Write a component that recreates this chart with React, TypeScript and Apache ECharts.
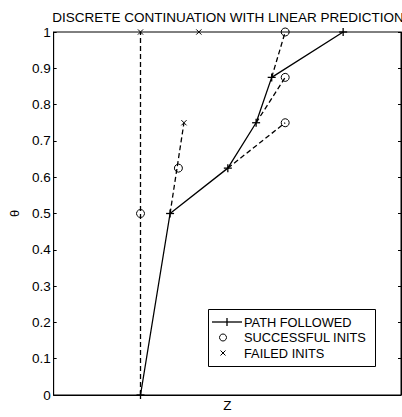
import React, { useEffect, useRef } from "react";
import * as echarts from "echarts";

const FONT = '"Liberation Sans", Arial, Helvetica, sans-serif';

const titleText = "DISCRETE CONTINUATION WITH LINEAR PREDICTION";
const xName = "Z";
const yName = "θ";

// Path followed (solid line with + markers)
const pathZ = [0.875, 1.173, 1.755, 2.04, 2.197, 2.917];
const pathTheta = [0, 0.5, 0.625, 0.75, 0.875, 1];

// Successful initialisations (open circles)
const successZ = [0.875, 1.257, 2.333, 2.333, 2.333];
const successTheta = [0.5, 0.625, 0.75, 0.875, 1];

// Failed initialisations (x markers)
const failedZ = [0.875, 1.463, 1.313];
const failedTheta = [1, 1, 0.75];

// Linear prediction segments (dashed): start -> end
const predStartZ = [0.875, 1.173, 1.755, 2.04, 2.197];
const predStartTheta = [0, 0.5, 0.625, 0.75, 0.875];
const predEndZ = [0.875, 1.313, 2.333, 2.333, 2.333];
const predEndTheta = [1, 0.75, 0.75, 0.875, 1];

const legendLabels = ["PATH FOLLOWED", "SUCCESSFUL INITS", "FAILED INITS"];

const zMin = 0;
const zMax = 3.5;
const thetaMin = 0;
const thetaMax = 1;
const thetaInterval = 0.1;

const BLACK = "#000";

export default function App() {
  const ref = useRef<HTMLDivElement>(null);

  useEffect(() => {
    if (!ref.current) return;
    const chart = echarts.init(ref.current, null, { renderer: "svg" });

    const pathData = pathZ.map((z, i) => [z, pathTheta[i]]);
    const successData = successZ.map((z, i) => [z, successTheta[i]]);
    const failedData = failedZ.map((z, i) => [z, failedTheta[i]]);

    const plusItem = (params: any, api: any) => {
      const p = api.coord([api.value(0), api.value(1)]);
      const s = 4;
      const st = { stroke: BLACK, lineWidth: 1.3 };
      return {
        type: "group",
        children: [
          { type: "line", shape: { x1: p[0] - s, y1: p[1], x2: p[0] + s, y2: p[1] }, style: st },
          { type: "line", shape: { x1: p[0], y1: p[1] - s, x2: p[0], y2: p[1] + s }, style: st },
        ],
      };
    };
    const circleItem = (params: any, api: any) => {
      const p = api.coord([api.value(0), api.value(1)]);
      return {
        type: "circle",
        shape: { cx: p[0], cy: p[1], r: 4 },
        style: { fill: "none", stroke: BLACK, lineWidth: 1 },
      };
    };
    const crossItem = (params: any, api: any) => {
      const p = api.coord([api.value(0), api.value(1)]);
      const s = 2.6;
      const st = { stroke: BLACK, lineWidth: 1 };
      return {
        type: "group",
        children: [
          { type: "line", shape: { x1: p[0] - s, y1: p[1] - s, x2: p[0] + s, y2: p[1] + s }, style: st },
          { type: "line", shape: { x1: p[0] - s, y1: p[1] + s, x2: p[0] + s, y2: p[1] - s }, style: st },
        ],
      };
    };

    const predSeries = predStartZ.map((z, i) => ({
      type: "line",
      name: "prediction" + i,
      data: [
        [z, predStartTheta[i]],
        [predEndZ[i], predEndTheta[i]],
      ],
      symbol: "none",
      silent: true,
      lineStyle: { color: BLACK, width: 1.3, type: [5, 3] },
      z: 2,
    }));

    const legendFontSize = 12.8;
    const lx = 208.5;
    const ly = 309.5;
    const rowY = [322, 337.5, 353];
    const textX = 244;

    const option: any = {
      animation: false,
      backgroundColor: "#fff",
      textStyle: { fontFamily: FONT },
      title: {
        text: titleText,
        left: 228,
        top: 10,
        textAlign: "center",
        padding: 0,
        textStyle: { fontSize: 13.5, fontWeight: "normal", color: BLACK, fontFamily: FONT },
      },
      grid: {
        left: 51,
        right: 1,
        top: 32,
        bottom: 15,
        show: true,
        borderColor: BLACK,
        borderWidth: 1,
        backgroundColor: "transparent",
      },
      xAxis: {
        type: "value",
        min: zMin,
        max: zMax,
        name: xName,
        nameLocation: "middle",
        nameGap: 3,
        nameTextStyle: { fontSize: 13.5, color: BLACK, fontFamily: FONT, verticalAlign: "top" },
        axisLine: { show: true, lineStyle: { color: BLACK, width: 1 } },
        axisTick: { show: false },
        axisLabel: { show: false },
        splitLine: { show: false },
      },
      yAxis: [
        {
          type: "value",
          min: thetaMin,
          max: thetaMax,
          interval: thetaInterval,
          name: yName,
          nameLocation: "middle",
          nameGap: 30,
          nameRotate: 90,
          nameTextStyle: { fontSize: 13, color: BLACK, fontFamily: FONT },
          axisLine: { show: true, lineStyle: { color: BLACK, width: 1 } },
          axisTick: { show: true, inside: true, length: 3, lineStyle: { color: BLACK, width: 1 } },
          axisLabel: { margin: 3, fontSize: 13.5, color: BLACK, fontFamily: FONT },
          splitLine: { show: false },
        },
        {
          type: "value",
          position: "right",
          min: thetaMin,
          max: thetaMax,
          interval: thetaInterval,
          axisLine: { show: true, lineStyle: { color: BLACK, width: 1 } },
          axisTick: { show: true, inside: true, length: 3, lineStyle: { color: BLACK, width: 1 } },
          axisLabel: { show: false },
          splitLine: { show: false },
        },
      ],
      series: [
        ...predSeries,
        {
          type: "line",
          name: legendLabels[0],
          data: pathData,
          symbol: "none",
          lineStyle: { color: BLACK, width: 1.3 },
          z: 3,
        },
        { type: "custom", name: legendLabels[0] + " markers", data: pathData, renderItem: plusItem, clip: false, z: 4 },
        { type: "custom", name: legendLabels[1], data: successData, renderItem: circleItem, clip: false, z: 4 },
        { type: "custom", name: legendLabels[2], data: failedData, renderItem: crossItem, clip: false, z: 4 },
      ],
      graphic: [
        {
          type: "group",
          z: 100,
          children: [
            {
              type: "rect",
              shape: { x: lx, y: ly, width: 167, height: 57 },
              style: { fill: "#fff", stroke: BLACK, lineWidth: 1 },
            },
            { type: "line", shape: { x1: 212, y1: rowY[0], x2: 242, y2: rowY[0] }, style: { stroke: BLACK, lineWidth: 1.3 } },
            { type: "line", shape: { x1: 227, y1: rowY[0] - 4, x2: 227, y2: rowY[0] + 4 }, style: { stroke: BLACK, lineWidth: 1.3 } },
            { type: "circle", shape: { cx: 223, cy: rowY[1], r: 3.5 }, style: { fill: "none", stroke: BLACK, lineWidth: 1 } },
            { type: "line", shape: { x1: 220.5, y1: rowY[2] - 2.5, x2: 225.5, y2: rowY[2] + 2.5 }, style: { stroke: BLACK, lineWidth: 1 } },
            { type: "line", shape: { x1: 220.5, y1: rowY[2] + 2.5, x2: 225.5, y2: rowY[2] - 2.5 }, style: { stroke: BLACK, lineWidth: 1 } },
            ...legendLabels.map((t, i) => ({
              type: "text",
              x: textX,
              y: rowY[i],
              style: {
                text: t,
                fill: BLACK,
                fontSize: legendFontSize,
                fontFamily: FONT,
                verticalAlign: "middle",
                align: "left",
              },
            })),
          ],
        },
      ],
    };

    chart.setOption(option);
    return () => chart.dispose();
  }, []);

  return (
    <div
      ref={ref}
      style={{ position: "absolute", left: 0, top: 0, width: 402, height: 417, background: "#fff" }}
    />
  );
}
